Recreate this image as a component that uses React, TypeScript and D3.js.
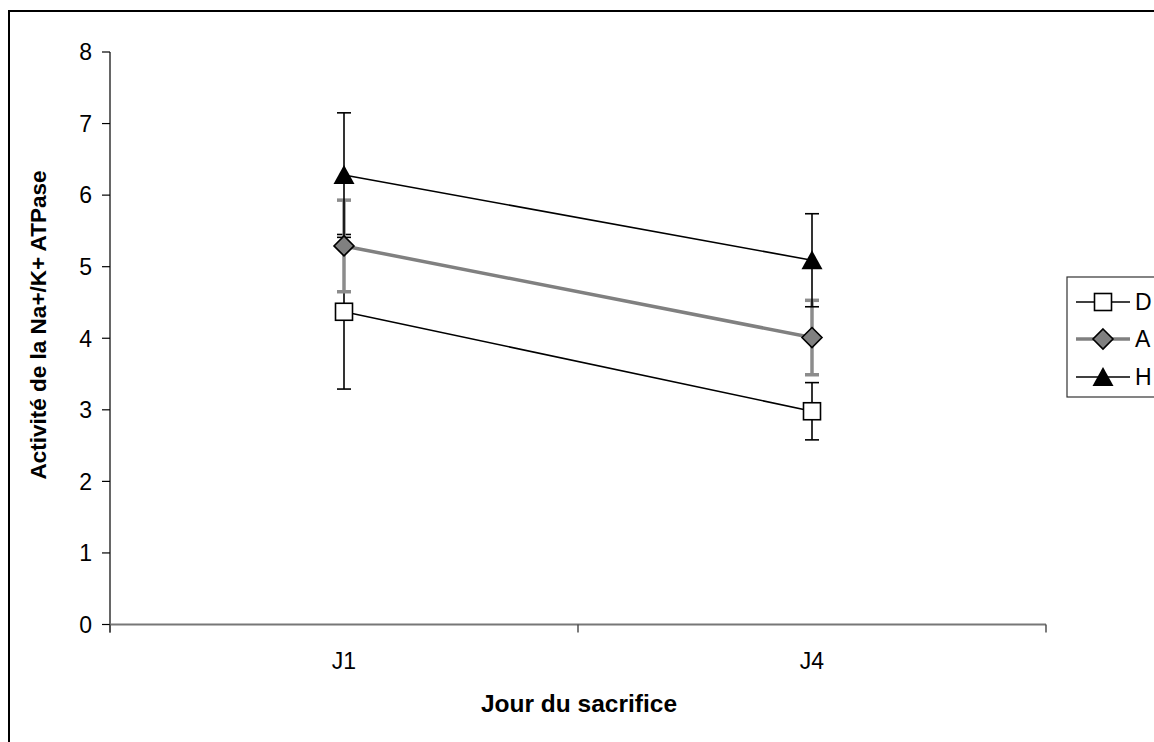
import * as d3 from "d3";

const categories = ["J1", "J4"];
const yTicks = [0, 1, 2, 3, 4, 5, 6, 7, 8];

const seriesNames = ["D", "A", "H"];
const meanD = [4.37, 2.98];
const errD = [1.08, 0.4];
const meanA = [5.29, 4.01];
const errA = [0.64, 0.52];
const meanH = [6.28, 5.09];
const errH = [0.87, 0.65];

const xTitle = "Jour du sacrifice";
const yTitle = "Activité de la Na+/K+ ATPase";

const W = 1154;
const H = 742;
const FONT = "Arial, 'Liberation Sans', sans-serif";

function Marker({ name, cx, cy }: { name: string; cx: number; cy: number }) {
  if (name === "D") {
    return <rect x={cx - 8.5} y={cy - 8.5} width={17} height={17} fill="#fff" stroke="#000" strokeWidth={1.6} />;
  }
  if (name === "A") {
    const r = 10;
    return (
      <path
        d={`M${cx},${cy - r}L${cx + r},${cy}L${cx},${cy + r}L${cx - r},${cy}Z`}
        fill="#808080"
        stroke="#000"
        strokeWidth={1.6}
      />
    );
  }
  return <path d={`M${cx},${cy - 10}L${cx + 10.5},${cy + 9}L${cx - 10.5},${cy + 9}Z`} fill="#000" />;
}

export default function App() {
  const x = d3.scaleBand<string>().domain(categories).range([110, 1046]);
  const y = d3.scaleLinear().domain([0, 8]).range([624.5, 52]);
  const cx = (c: string) => (x(c) ?? 0) + x.bandwidth() / 2;

  const series = [
    { name: "D", means: meanD, errs: errD, color: "#000", width: 1.6, errColor: "#000", errWidth: 1.6 },
    { name: "A", means: meanA, errs: errA, color: "#808080", width: 3.5, errColor: "#8c8c8c", errWidth: 3.5 },
    { name: "H", means: meanH, errs: errH, color: "#000", width: 1.6, errColor: "#000", errWidth: 1.6 },
  ];

  const line = d3
    .line<number>()
    .x((_, i) => cx(categories[i]))
    .y((d) => y(d));

  const xBounds = [...categories.map((c) => x(c) ?? 0), 1046];

  const legendY = [302, 339, 377];

  return (
    <svg width={W} height={H} style={{ position: "absolute", left: 0, top: 0, background: "#fff" }} fontFamily={FONT}>
      <rect x={9} y={11} width={1160} height={740} fill="#fff" stroke="#000" strokeWidth={2} />

      {/* axes */}
      <line x1={110} x2={110} y1={y(8)} y2={y(0) + 8} stroke="#000" strokeWidth={1.2} />
      {yTicks.map((t) => (
        <g key={t}>
          <line x1={102} x2={110} y1={y(t)} y2={y(t)} stroke="#000" strokeWidth={1.2} />
          <text x={92} y={y(t)} dy="0.36em" textAnchor="end" fontSize={23}>
            {t}
          </text>
        </g>
      ))}
      <line x1={110} x2={1046} y1={y(0)} y2={y(0)} stroke="#777" strokeWidth={2} />
      {xBounds.map((b, i) => (
        <line key={i} x1={b} x2={b} y1={y(0)} y2={y(0) + 8} stroke="#444" strokeWidth={1.4} />
      ))}
      {categories.map((c) => (
        <text key={c} x={cx(c)} y={669} textAnchor="middle" fontSize={23}>
          {c}
        </text>
      ))}

      <text x={579} y={712} textAnchor="middle" fontSize={24.5} fontWeight="bold">
        {xTitle}
      </text>
      <text transform={`translate(46,325) rotate(-90)`} textAnchor="middle" fontSize={22.5} fontWeight="bold">
        {yTitle}
      </text>

      {/* error bars */}
      {series.map((s) =>
        s.means.map((m, i) => {
          const px = cx(categories[i]);
          const top = y(m + s.errs[i]);
          const bot = y(m - s.errs[i]);
          return (
            <g key={s.name + i} stroke={s.errColor} strokeWidth={s.errWidth}>
              <line x1={px} x2={px} y1={top} y2={bot} />
              <line x1={px - 7} x2={px + 7} y1={top} y2={top} />
              <line x1={px - 7} x2={px + 7} y1={bot} y2={bot} />
            </g>
          );
        })
      )}

      {/* lines */}
      {series.map((s) => (
        <path key={s.name} d={line(s.means) ?? ""} fill="none" stroke={s.color} strokeWidth={s.width} />
      ))}

      {/* markers */}
      {series.map((s) =>
        s.means.map((m, i) => <Marker key={s.name + i} name={s.name} cx={cx(categories[i])} cy={y(m)} />)
      )}

      {/* legend */}
      <rect x={1067} y={277} width={120} height={120} fill="#fff" stroke="#333" strokeWidth={1.2} />
      {series.map((s, i) => (
        <g key={s.name}>
          <line x1={1076} x2={1130} y1={legendY[i]} y2={legendY[i]} stroke={s.color} strokeWidth={s.width} />
          <Marker name={s.name} cx={1103} cy={legendY[i]} />
          <text x={1135} y={legendY[i]} dy="0.36em" fontSize={23}>
            {seriesNames[i]}
          </text>
        </g>
      ))}
    </svg>
  );
}
